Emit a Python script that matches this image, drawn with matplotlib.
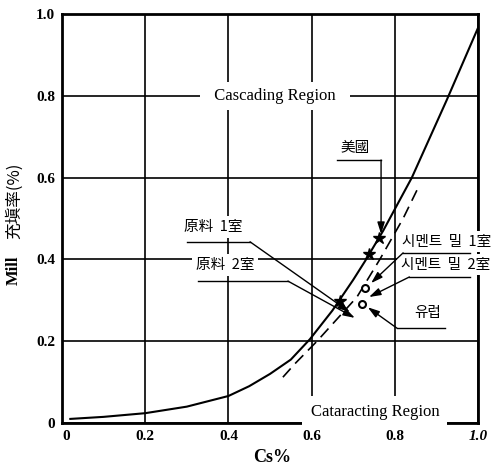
import matplotlib.pyplot as plt

# 충전율 곡선 (실선) 과 한계선 (점선)
cs_solid = [0.02, 0.10, 0.20, 0.30, 0.40, 0.45, 0.50, 0.55, 0.596, 0.65, 0.70, 0.728, 0.772, 0.841, 0.925, 1.00]
fill_solid = [0.010, 0.015, 0.024, 0.040, 0.066, 0.090, 0.120, 0.155, 0.205, 0.275, 0.350, 0.395, 0.470, 0.600, 0.790, 0.966]
cs_dash = [0.531, 0.56, 0.613, 0.709, 0.764, 0.82, 0.856]
fill_dash = [0.112, 0.145, 0.200, 0.308, 0.400, 0.500, 0.575]

# 측정점
star_x = [0.762, 0.738, 0.668]
star_y = [0.452, 0.412, 0.298]
circle_x = [0.728, 0.721]
circle_y = [0.330, 0.291]

ticks = [0, 0.2, 0.4, 0.6, 0.8, 1.0]
xlabels = ['0', '0.2', '0.4', '0.6', '0.8', '1.0']
ylabels = ['0', '0.2', '0.4', '0.6', '0.8', '1.0']

cjk = ['Noto Sans CJK KR', 'DejaVu Sans']
serif = 'Liberation Serif'
white = dict(boxstyle='square,pad=0.35', fc='white', ec='none')

fig = plt.figure(figsize=(4.98, 4.72), dpi=100)
ax = fig.add_axes([62 / 498, 1 - 423 / 472, 416 / 498, 409 / 472])
ax.set_xlim(0, 1.0)
ax.set_ylim(0, 1.0)

ax.set_xticks(ticks)
ax.set_yticks(ticks)
ax.set_xticklabels(xlabels, family=serif, fontsize=11, fontweight='bold')
ax.set_yticklabels(ylabels, family=serif, fontsize=11, fontweight='bold')
ax.get_xticklabels()[-1].set_style('italic')
ax.get_xticklabels()[0].set_horizontalalignment('left')
ax.tick_params(length=0, pad=5)
ax.grid(True, color='black', lw=1.2)
ax.set_axisbelow(True)
for s in ax.spines.values():
    s.set_linewidth(2)
    s.set_zorder(2)

ax.plot(cs_solid, fill_solid, color='black', lw=1.5, zorder=4)
ax.plot(cs_dash, fill_dash, color='black', lw=1.2, ls=(0, (7, 4)), zorder=4)
ax.plot(star_x, star_y, ls='none', marker='*', ms=9, color='black', zorder=5)
ax.plot(circle_x, circle_y, ls='none', marker='o', ms=5, mfc='white', mec='black', mew=1.5, zorder=5)

# 영역 이름
ax.text(0.512, 0.8, '  Cascading Region  ', ha='center', va='center', family=serif,
        fontsize=12, bbox=white, zorder=3)
ax.text(0.752, 0.027, 'Cataracting Region', ha='center', va='center', family=serif,
        fontsize=12, bbox=dict(boxstyle='square,pad=0.5', fc='white', ec='none'), zorder=3)

# 라벨과 지시선
arrow = dict(arrowstyle='-|>,head_length=0.7,head_width=0.22', color='black', lw=1,
             shrinkA=0, shrinkB=0)
labels = [
    ('美國', (0.704, 0.672), (0.661, 0.767), 0.643, (0.767, 0.462)),
    ('原料  1室', (0.363, 0.479), (0.300, 0.452), 0.443, (0.692, 0.271)),
    ('原料  2室', (0.392, 0.386), (0.327, 0.543), 0.347, (0.704, 0.257)),
    ('시멘트  밀  1室', (0.925, 0.443), (0.981, 0.820), 0.416, (0.743, 0.342)),
    ('시멘트  밀  2室', (0.922, 0.387), (0.981, 0.835), 0.357, (0.738, 0.308)),
    ('유럽', (0.880, 0.269), (0.921, 0.805), 0.232, (0.735, 0.283)),
]
for text, pos, (x0, x1), uy, tip in labels:
    ax.text(pos[0], pos[1], text, ha='center', va='center', family=cjk, fontsize=10.5,
            bbox=dict(boxstyle='square,pad=0.25', fc='white', ec='none'),
            zorder=3, clip_on=False)
    ax.plot([x0, x1], [uy, uy], color='black', lw=1, clip_on=False, zorder=4)
    ax.annotate('', xy=tip, xytext=(x1, uy), arrowprops=arrow, zorder=4)

fig.text(272 / 498, 1 - 458 / 472, 'Cs%', ha='center', va='center', family=serif,
         fontsize=13, fontweight='bold')
fig.text(14 / 498, 1 - 270 / 472, 'Mill', ha='center', va='center', rotation=90,
         family=serif, fontsize=12, fontweight='bold')
fig.text(14 / 498, 1 - 201 / 472, '充塡率(%)', ha='center', va='center', rotation=90,
         family=cjk, fontsize=12)

fig.savefig('out.png', dpi=100)
